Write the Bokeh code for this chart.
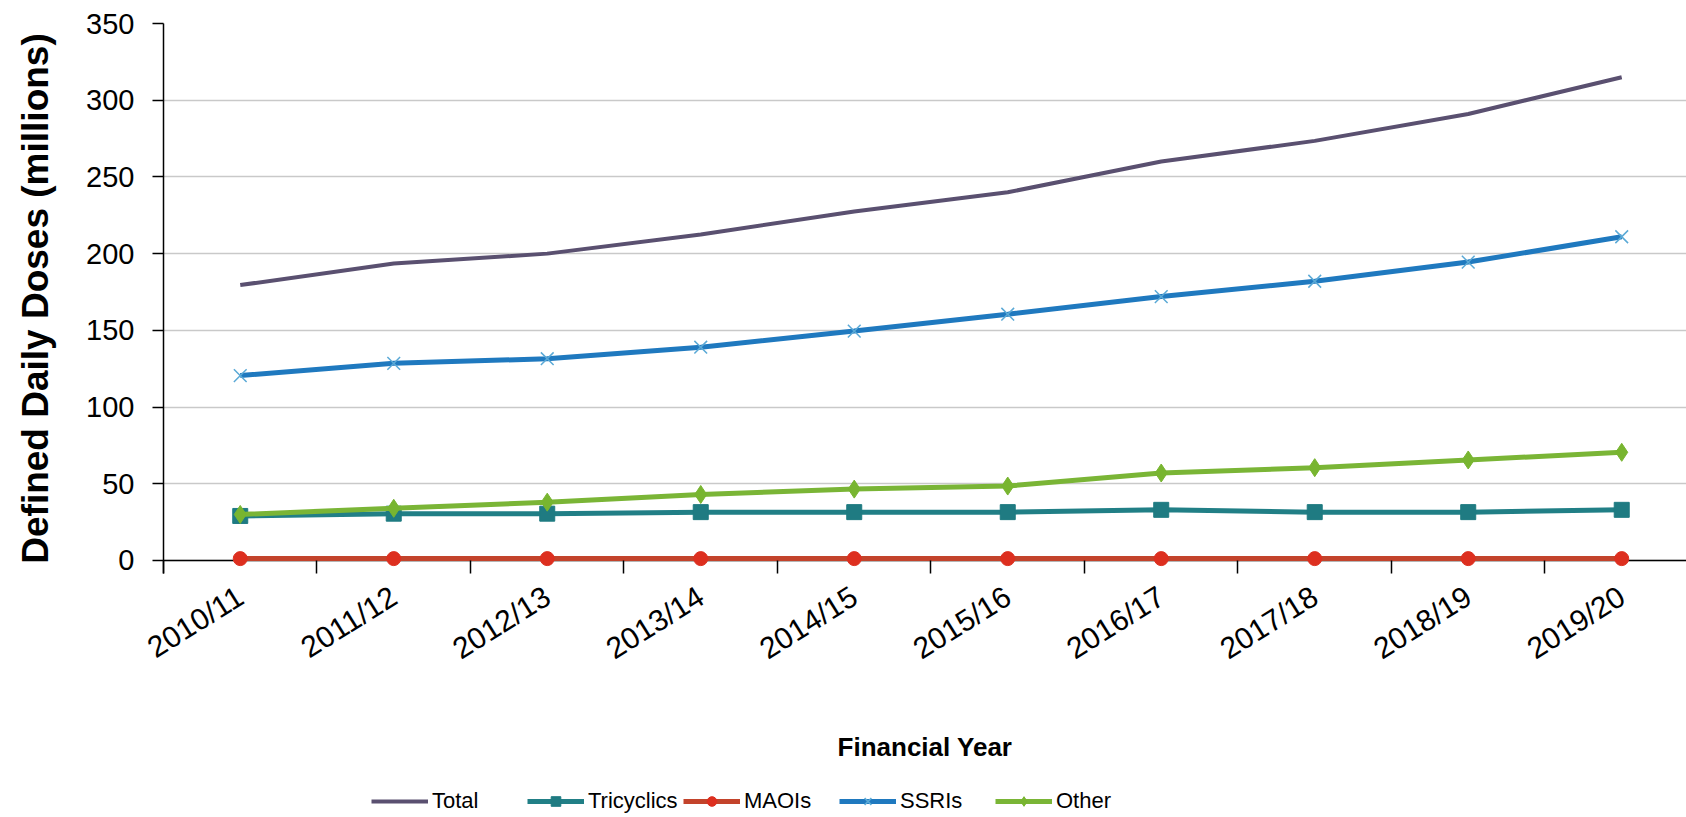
from bokeh.plotting import figure
from bokeh.layouts import column
from bokeh.models import Range1d, FixedTicker, Span, Legend, LegendItem
from bokeh.embed import file_html
from bokeh.resources import INLINE

categories = ["2010/11", "2011/12", "2012/13", "2013/14", "2014/15",
              "2015/16", "2016/17", "2017/18", "2018/19", "2019/20"]
total = [179.5, 193.5, 200.0, 212.5, 227.5, 240.0, 260.0, 273.5, 291.0, 315.0]
tricyclics = [29.0, 30.5, 30.5, 31.5, 31.5, 31.5, 33.0, 31.5, 31.5, 33.0]
maois = [1.2, 1.2, 1.2, 1.2, 1.2, 1.2, 1.2, 1.2, 1.2, 1.2]
ssris = [120.5, 128.5, 131.5, 139.0, 149.5, 160.5, 172.0, 182.0, 194.5, 211.0]
other = [30.0, 34.0, 38.0, 43.0, 46.5, 48.5, 57.0, 60.5, 65.5, 70.5]
y_ticks = [0, 50, 100, 150, 200, 250, 300, 350]

x = list(range(len(categories)))
FONT = "Liberation Sans"

p = figure(width=1686, height=775,
           x_range=Range1d(-0.5, 9.422), y_range=Range1d(-8.5, 350),
           output_backend="svg", toolbar_location=None,
           min_border_left=163, min_border_right=0, min_border_top=23,
           min_border_bottom=202)
p.outline_line_color = None
p.background_fill_color = "white"
p.border_fill_color = "white"

# grid
p.xgrid.visible = False
p.ygrid.ticker = FixedTicker(ticks=y_ticks)
p.ygrid.grid_line_color = "#c9c9c9"
p.ygrid.grid_line_width = 1.5

# y axis
p.yaxis.ticker = FixedTicker(ticks=y_ticks)
p.yaxis.axis_line_color = "black"
p.yaxis.axis_line_width = 1.5
p.yaxis.major_tick_line_color = "black"
p.yaxis.major_tick_line_width = 1.5
p.yaxis.major_tick_out = 11
p.yaxis.major_tick_in = 0
p.yaxis.minor_tick_line_color = None
p.yaxis.major_label_standoff = 18
p.yaxis.major_label_text_font = FONT
p.yaxis.major_label_text_font_size = "29px"
p.yaxis.major_label_text_color = "black"
p.yaxis.axis_label = "Defined Daily Doses (millions)"
p.yaxis.axis_label_text_font = FONT
p.yaxis.axis_label_text_font_style = "bold"
p.yaxis.axis_label_text_font_size = "37px"
p.yaxis.axis_label_text_color = "black"
p.yaxis.axis_label_standoff = 27

# x axis: labels at category centres, tick marks at category boundaries
p.xaxis.ticker = FixedTicker(ticks=x, minor_ticks=[i + 0.5 for i in range(-1, len(categories))])
p.xaxis.major_label_overrides = {i: c for i, c in enumerate(categories)}
p.xaxis.axis_line_color = None
p.xaxis.major_tick_line_color = None
p.xaxis.major_tick_in = 0
p.xaxis.major_tick_out = 0
p.xaxis.minor_tick_line_color = "black"
p.xaxis.minor_tick_line_width = 1.5
p.xaxis.minor_tick_in = 13
p.xaxis.minor_tick_out = 0
p.xaxis.major_label_orientation = 0.56
p.xaxis.major_label_standoff = 20
p.xaxis.major_label_text_font = FONT
p.xaxis.major_label_text_font_size = "30px"
p.xaxis.major_label_text_color = "black"
p.xaxis.axis_label = "Financial Year"
p.xaxis.axis_label_text_font = FONT
p.xaxis.axis_label_text_font_style = "bold"
p.xaxis.axis_label_text_font_size = "26px"
p.xaxis.axis_label_text_color = "black"
p.xaxis.axis_label_standoff = 50

# horizontal axis line at zero (beneath the series)
p.add_layout(Span(location=0, dimension="width", line_color="black",
                  line_width=1.5, level="underlay"))

STYLES = [
    ("Total", total, "#5a5070", 4, None, None, 0),
    ("Tricyclics", tricyclics, "#217f86", 5, "square", "#1f7b82", 15),
    ("MAOIs", maois, "#c3432b", 5, "circle", "#dd2f1f", 14),
    ("SSRIs", ssris, "#1f79bf", 5, "x", "#5aa9d6", 18),
    ("Other", other, "#7ab536", 5, "diamond", "#78b530", 18),
]

# legend strip below the chart (its renderers hold the same series, out of view)
p2 = figure(width=1686, height=42, output_backend="svg", toolbar_location=None,
            x_axis_type=None, y_axis_type=None,
            x_range=Range1d(-0.5, 9.422), y_range=Range1d(1000, 1001),
            min_border=0, min_border_left=0, min_border_right=0,
            min_border_top=0, min_border_bottom=0)
p2.outline_line_color = None
p2.background_fill_color = "white"
p2.border_fill_color = "white"

items = []
for name, vals, lc, lw, mk, mc, ms in STYLES:
    p.line(x, vals, line_color=lc, line_width=lw)
    rl = p2.line(x, vals, line_color=lc, line_width=lw)
    rs = [rl]
    if mk is not None:
        if mk == "x":
            p.scatter(x, vals, marker=mk, size=ms, line_color=mc, line_width=1.5)
            rs.append(p2.scatter(x, vals, marker=mk, size=ms, line_color=mc, line_width=1.5))
        else:
            p.scatter(x, vals, marker=mk, size=ms, fill_color=mc, line_color=mc)
            rs.append(p2.scatter(x, vals, marker=mk, size=ms, fill_color=mc, line_color=mc))
    items.append(LegendItem(label=name, renderers=rs))

legend = Legend(items=items, orientation="horizontal", location=(208, 3),
                border_line_color=None, background_fill_alpha=0,
                padding=0, margin=0, spacing=0,
                glyph_width=57, glyph_height=24, label_standoff=4, label_width=95,
                label_text_font=FONT, label_text_font_size="22px",
                label_text_color="black")
p2.add_layout(legend, "center")

layout = column(p, p2, spacing=0)
open("out.html", "w").write(file_html(layout, INLINE))
